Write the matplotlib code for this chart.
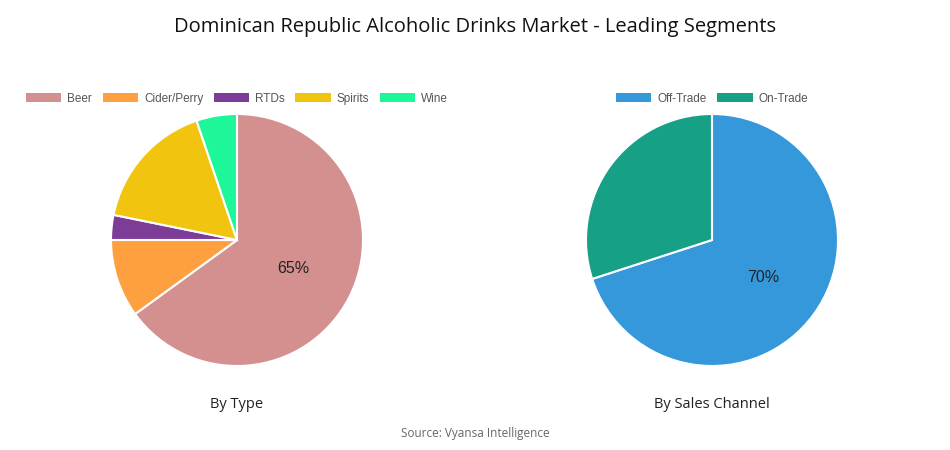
import matplotlib.pyplot as plt
from matplotlib.patches import Patch

type_labels = ['Beer', 'Cider/Perry', 'RTDs', 'Spirits', 'Wine']
type_values = [65, 10, 3.2, 16.6, 5.2]
type_colors = ['#D4908E', '#FFA040', '#7D3C98', '#F1C40F', '#1DF79A']

channel_labels = ['Off-Trade', 'On-Trade']
channel_values = [70, 30]
channel_colors = ['#3498DB', '#16A085']

W, H = 950, 450
fig = plt.figure(figsize=(W / 100, H / 100), dpi=100)
fig.patch.set_facecolor('white')

title_font = 'Open Sans'
label_font = 'Liberation Sans'


def draw_pie(cx, cy, r, values, colors, labels, subtitle):
    ax = fig.add_axes([(cx - r) / W, (H - cy - r) / H, 2 * r / W, 2 * r / H])
    first = values[0]
    wedges, texts, autotexts = ax.pie(
        values, colors=colors, startangle=90, counterclock=False, radius=1.0,
        wedgeprops=dict(edgecolor='white', linewidth=1.5),
        autopct=lambda p: f'{p:.0f}%' if abs(p - first) < 0.5 else '',
        pctdistance=0.5, textprops=dict(fontsize=11.5, color='#222222', family=label_font))
    ax.set_xlim(-1, 1)
    ax.set_ylim(-1, 1)
    ax.set_aspect('equal')
    handles = [Patch(facecolor=c, edgecolor='none', label=l) for c, l in zip(colors, labels)]
    fig.legend(handles=handles, loc='center', bbox_to_anchor=(cx / W, 1 - 99 / H),
               ncol=len(labels), frameon=False, handlelength=3.0, handleheight=0.8,
               handletextpad=0.5, columnspacing=0.9,
               prop=dict(family=label_font, size=8.5), labelcolor='#555555')
    fig.text(cx / W, 1 - 405 / H, subtitle, ha='center', va='center',
             fontsize=10.5, family=title_font, color='#222222')


draw_pie(237, 240, 126, type_values, type_colors, type_labels, 'By Type')
draw_pie(712, 240, 126, channel_values, channel_colors, channel_labels, 'By Sales Channel')

fig.text(0.5, 1 - 27 / H, 'Dominican Republic Alcoholic Drinks Market - Leading Segments',
         ha='center', va='center', fontsize=14.5, family=title_font, color='#111111')
fig.text(0.5, 1 - 434 / H, 'Source: Vyansa Intelligence', ha='center', va='center',
         fontsize=8.5, family=title_font, color='#666666')

fig.savefig('out.png', dpi=100)
